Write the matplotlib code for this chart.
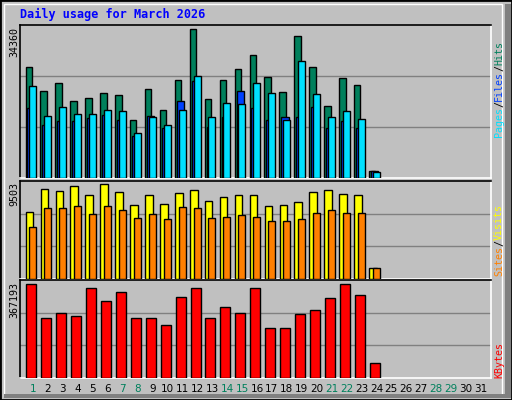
import matplotlib
matplotlib.use("Agg")
import matplotlib.pyplot as plt
from matplotlib.patches import Rectangle
import numpy as np

days = list(range(1, 32))
hits = [25700, 20100, 22000, 17800, 18500, 19600, 19200, 13300, 20600, 15700, 22700, 34360,
        18200, 22700, 25200, 28300, 23400, 19900, 32700, 25700, 16600, 23100, 21500, 1600]
files = [16100, 12200, 13100, 13100, 13800, 14500, 13300, 9800, 14300, 11500, 17800, 22400,
         11700, 14000, 20100, 16100, 13300, 14000, 14000, 16400, 11500, 13100, 11500, 1600]
pages = [21300, 14300, 16400, 14700, 14700, 15700, 15400, 10300, 14000, 12200, 15700, 23600,
         14000, 17300, 17100, 22000, 19600, 13300, 27100, 19400, 14000, 15400, 13600, 1400]
visits = [6704, 8985, 8777, 9296, 8363, 9503, 8674, 7430, 8363, 7533, 8570, 8881,
          7844, 8259, 8363, 8363, 7326, 7430, 7741, 8674, 8881, 8466, 8363, 1106]
sites = [5253, 7119, 7119, 7326, 6497, 7326, 6911, 6082, 6497, 5978, 7222, 7119,
         6082, 6186, 6393, 6186, 5771, 5771, 5978, 6600, 6911, 6600, 6600, 1106]
kbytes = [367193, 234040, 254215, 242110, 355088, 302632, 338948, 234040, 234040, 209829, 318774, 355088,
          234040, 278426, 254215, 355088, 197723, 197723, 250180, 266321, 314739, 367193, 326844, 60527]
weekend_days = [1, 7, 8, 14, 15, 21, 22, 28, 29]

W, H = 512, 400
BG = "#C0C0C0"
fig = plt.figure(figsize=(W / 100, H / 100), dpi=100, facecolor=BG)

def fx(x): return x / W
def fy(y): return 1 - y / H

fig.patches.append(Rectangle((0, 0), 1, 1, transform=fig.transFigure, fill=False,
                             edgecolor="black", lw=2))
fig.patches.append(Rectangle((fx(4), fy(396)), fx(502) - fx(4), fy(4) - fy(396),
                             transform=fig.transFigure, fill=False, edgecolor="white", lw=1))
fig.patches.append(Rectangle((fx(505), fy(398)), fx(511) - fx(505), fy(4) - fy(398),
                             transform=fig.transFigure, facecolor="#808080", edgecolor="none"))
fig.patches.append(Rectangle((fx(4), fy(398)), fx(511) - fx(4), fy(394) - fy(398),
                             transform=fig.transFigure, facecolor="#808080", edgecolor="none"))

fig.text(fx(20), fy(14), "Daily usage for March 2026", color="#0000FF",
         family="DejaVu Sans Mono", weight="bold", fontsize=8.5, va="center", ha="left")

XL = (0.13, 31.67)
panels = [(25, 178), (181, 279), (280, 378)]

def make_ax(top, bot):
    ax = fig.add_axes([fx(20), fy(bot), fx(491) - fx(20), fy(top) - fy(bot)])
    ax.set_facecolor(BG)
    ax.set_xlim(*XL)
    ax.set_xticks([]); ax.set_yticks([])
    ax.spines["left"].set_color("black"); ax.spines["top"].set_color("black")
    ax.spines["right"].set_color("white"); ax.spines["bottom"].set_color("white")
    for s in ax.spines.values(): s.set_linewidth(1.2)
    return ax

d = np.arange(1, len(hits) + 1)
ek = dict(edgecolor="black", linewidth=1, align="edge", zorder=3)

ax1 = make_ax(*panels[0])
top1 = max(hits) * 151 / 147
ax1.set_ylim(0, top1)
for f in (1 / 3, 2 / 3): ax1.axhline(top1 * f, color="#808080", lw=1, zorder=1)
ax1.bar(d - 0.5, hits, width=0.43, color="#00805C", **ek)
ax1.bar(d - 0.37, files, width=0.5, color="#0040FF", **ek)
ax1.bar(d - 0.25, pages, width=0.47, color="#00E0FF", **ek)

ax2 = make_ax(*panels[1])
top2 = max(visits) * 95 / 92
ax2.set_ylim(0, top2)
for f in (1 / 3, 2 / 3): ax2.axhline(top2 * f, color="#808080", lw=1, zorder=1)
ax2.bar(d - 0.49, visits, width=0.51, color="#FFFF00", **ek)
ax2.bar(d - 0.25, sites, width=0.47, color="#FF8000", **ek)

ax3 = make_ax(*panels[2])
top3 = max(kbytes) * 95 / 90.7
ax3.set_ylim(0, top3)
for f in (1 / 3, 2 / 3): ax3.axhline(top3 * f, color="#808080", lw=1, zorder=1)
ax3.bar(d - 0.45, kbytes, width=0.67, color="#FF0000", **ek)

mono = dict(family="DejaVu Sans Mono", fontsize=7.2, rotation=90)
fig.text(fx(14), fy(27), str(max(hits)), va="top", ha="center", **mono)
fig.text(fx(14), fy(182), str(max(visits)), va="top", ha="center", **mono)
fig.text(fx(14), fy(282), str(max(kbytes)), va="top", ha="center", **mono)

def stacked(pieces, ybottom, fs=6.5):
    cw = fs * 100 / 72 * 0.602
    y = ybottom
    for txt, col in pieces:
        fig.text(fx(499), fy(y), txt, color=col, va="bottom", ha="center",
                 family="DejaVu Sans Mono", fontsize=fs, rotation=90)
        y -= cw * len(txt)

stacked([("Pages", "#00E0FF"), ("/", "black"), ("Files", "#0040FF"),
         ("/", "black"), ("Hits", "#00805C")], 137, fs=7.2)
stacked([("Sites", "#FF8000"), ("/", "black"), ("Visits", "#FFFF00")], 276, fs=7.2)
stacked([("KBytes", "#FF0000")], 378, fs=7.2)

for day in days:
    x = 18.07 + 14.93 * day
    fig.text(fx(x), fy(389), str(day), ha="center", va="center",
             color="#00805C" if day in weekend_days else "black",
             family="DejaVu Sans", fontsize=7.5)

fig.savefig("out.png", dpi=100, facecolor=BG)
